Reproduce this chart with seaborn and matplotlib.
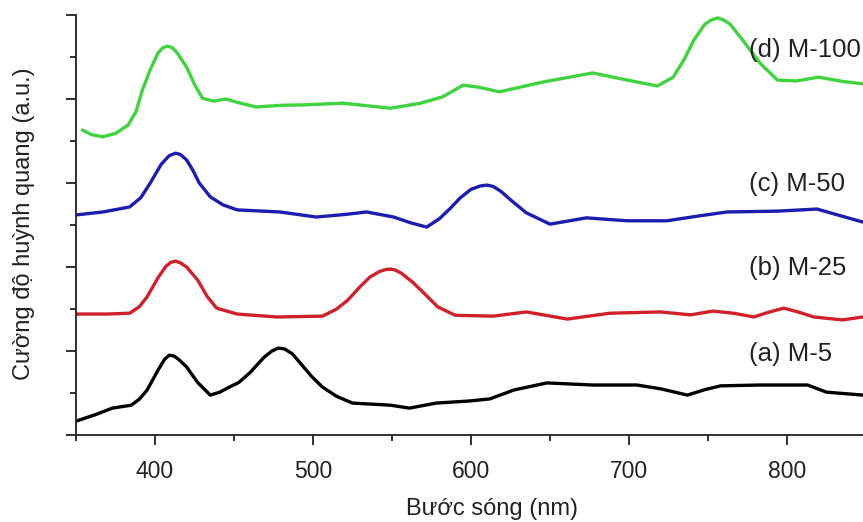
import matplotlib
matplotlib.use("Agg")
import matplotlib.pyplot as plt
import seaborn as sns
import pandas as pd
from matplotlib.ticker import MultipleLocator

# ---- data ----
green_x = [354, 360, 367, 375, 383, 388, 392, 397, 402, 405, 408, 411, 414, 420, 425, 430, 437, 445, 452, 464,
           480, 494, 519, 549, 568, 582, 595, 605, 618, 645, 677, 699, 718, 728, 735, 741, 748, 752, 756, 760,
           764, 772, 783, 794, 806, 820, 835, 848]
green_y = [7.26, 7.15, 7.10, 7.18, 7.38, 7.70, 8.21, 8.70, 9.10, 9.22, 9.26, 9.22, 9.10, 8.76, 8.35, 8.02, 7.95,
           8.00, 7.92, 7.81, 7.85, 7.86, 7.90, 7.78, 7.90, 8.05, 8.33, 8.28, 8.17, 8.40, 8.62, 8.45, 8.31, 8.52,
           8.95, 9.40, 9.78, 9.88, 9.93, 9.88, 9.78, 9.40, 8.85, 8.45, 8.43, 8.52, 8.42, 8.36]

blue_x = [350, 367, 384, 391, 397, 404, 409, 413, 416, 420, 424, 428, 435, 443, 452, 479, 502, 520, 534, 551,
          562, 572, 580, 587, 593, 600, 606, 610, 614, 619, 625, 635, 650, 673, 699, 724, 745, 762, 794, 819,
          832, 848]
blue_y = [5.24, 5.31, 5.43, 5.65, 6.00, 6.45, 6.65, 6.71, 6.68, 6.55, 6.30, 6.00, 5.67, 5.48, 5.36, 5.31, 5.19,
          5.25, 5.31, 5.19, 5.05, 4.95, 5.15, 5.40, 5.64, 5.85, 5.93, 5.95, 5.92, 5.80, 5.60, 5.29, 5.02, 5.17,
          5.10, 5.10, 5.22, 5.31, 5.33, 5.38, 5.24, 5.07]

red_x = [350, 370, 384, 390, 395, 402, 407, 410, 413, 416, 420, 427, 433, 439, 452, 477, 506, 515, 522, 529,
         536, 542, 546, 549, 552, 556, 563, 571, 579, 590, 614, 635, 661, 688, 720, 739, 753, 766, 779, 789,
         798, 807, 817, 835, 848]
red_y = [2.88, 2.88, 2.90, 3.05, 3.29, 3.75, 4.02, 4.11, 4.14, 4.10, 4.00, 3.69, 3.30, 3.02, 2.88, 2.81, 2.83,
         3.00, 3.21, 3.50, 3.76, 3.89, 3.94, 3.95, 3.93, 3.85, 3.64, 3.35, 3.05, 2.85, 2.83, 2.93, 2.76, 2.90,
         2.93, 2.86, 2.95, 2.90, 2.81, 2.93, 3.02, 2.93, 2.81, 2.74, 2.81]

black_x = [350, 362, 373, 385, 390, 395, 402, 406, 409, 412, 415, 420, 427, 435, 441, 447, 453, 460, 469, 474,
           478, 482, 487, 492, 499, 506, 515, 525, 549, 561, 578, 599, 612, 627, 648, 677, 705, 720, 737, 748,
           758, 783, 813, 825, 848]
black_y = [0.33, 0.48, 0.64, 0.71, 0.85, 1.07, 1.55, 1.80, 1.90, 1.88, 1.80, 1.62, 1.25, 0.95, 1.02, 1.14, 1.25,
           1.48, 1.85, 2.00, 2.07, 2.05, 1.93, 1.71, 1.40, 1.14, 0.92, 0.76, 0.71, 0.64, 0.76, 0.81, 0.86, 1.07,
           1.24, 1.19, 1.19, 1.10, 0.95, 1.08, 1.17, 1.19, 1.19, 1.02, 0.95]

series_labels = ["(a) M-5", "(b) M-25", "(c) M-50", "(d) M-100"]
label_y = [1.93, 3.98, 5.98, 9.17]
colors = ["#000000", "#d0202a", "#1c1cb0", "#3dd43d"]

x_label = "Bước sóng (nm)"
y_label = "Cường độ huỳnh quang (a.u.)"
x_ticks = [400, 500, 600, 700, 800]

# ---- figure ----
sns.set_style("white")
plt.rcParams["font.family"] = ["Liberation Sans", "DejaVu Sans"]

W, H = 863, 522
fig = plt.figure(figsize=(W / 100, H / 100), dpi=100)
ax = fig.add_axes([76 / W, 1 - 435 / H, (866 - 76) / W, (435 - 15) / H])

xs = [black_x, red_x, blue_x, green_x]
ys = [black_y, red_y, blue_y, green_y]
for xv, yv, c in zip(xs, ys, colors):
    df = pd.DataFrame({"x": xv, "y": yv})
    sns.lineplot(data=df, x="x", y="y", color=c, linewidth=2.4, estimator=None, ax=ax)

for lab, ly in zip(series_labels, label_y):
    ax.text(776, ly, lab, fontsize=18.5, color="#222222", va="center", ha="left", clip_on=False)

ax.set_xlim(350, 850)
ax.set_ylim(0, 10)
ax.set_xticks(x_ticks)
ax.xaxis.set_minor_locator(MultipleLocator(50))
ax.yaxis.set_major_locator(MultipleLocator(2))
ax.yaxis.set_minor_locator(MultipleLocator(1))
ax.set_yticklabels([])
ax.tick_params(axis="both", which="major", direction="out", length=7, width=1.3, color="#222222",
               labelsize=16.5, labelcolor="#222222", left=True, bottom=True, pad=11)
ax.tick_params(axis="both", which="minor", direction="out", length=4, width=1.3, color="#222222",
               left=True, bottom=True)
for s in ["top", "right"]:
    ax.spines[s].set_visible(False)
for s in ["left", "bottom"]:
    ax.spines[s].set_linewidth(1.3)
    ax.spines[s].set_color("#222222")

ax.set_xlabel("")
ax.set_ylabel("")
fig.text(492 / W, 1 - 515 / H, x_label, fontsize=17, color="#222222", ha="center", va="baseline")
fig.text(24 / W, 1 - 224 / H, y_label, fontsize=17, color="#222222", ha="center", va="center", rotation=90)

fig.savefig("out.png", dpi=100)
